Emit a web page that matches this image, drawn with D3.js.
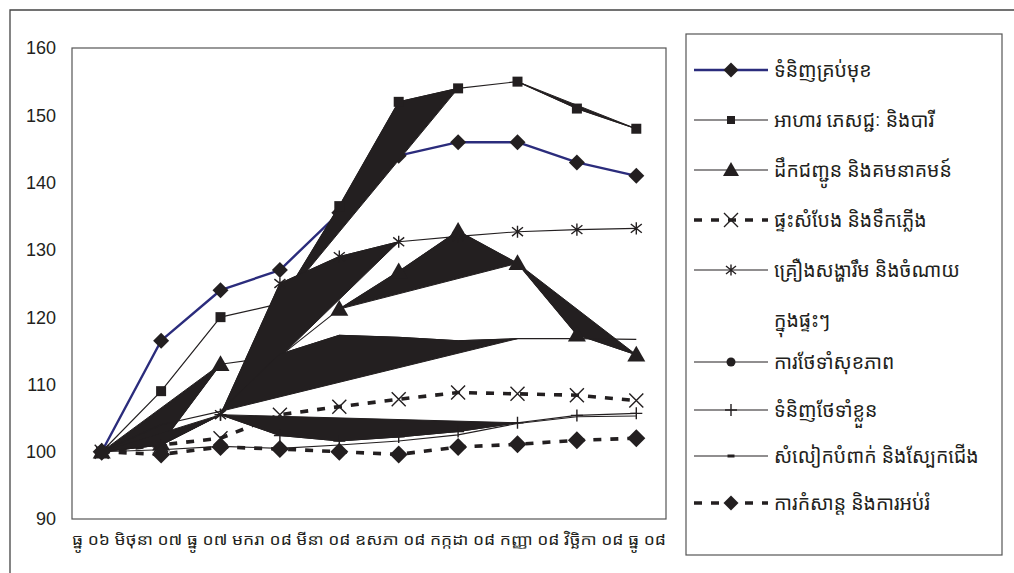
<!DOCTYPE html>
<html lang="km">
<head>
<meta charset="UTF-8">
<title>CPI by group</title>
<script src="https://d3js.org/d3.v7.min.js"></script>
<style>
  body { margin: 0; background: #fff; }
  text { fill: #231f20; }
  .num { font-family: "Liberation Sans", Arial, sans-serif; font-size: 18px; }
  .km { font-family: "Noto Sans Khmer", "Khmer OS", "Noto Sans", "DejaVu Sans", sans-serif; }
</style>
</head>
<body>
<svg width="1014" height="573"></svg>
<script>
// categories (x axis)
const months = ["ធ្នូ ០៦", "មិថុនា ០៧", "ធ្នូ ០៧", "មករា ០៨", "មីនា ០៨",
                "ឧសភា ០៨", "កក្កដា ០៨", "កញ្ញា ០៨", "វិច្ឆិកា ០៨", "ធ្នូ ០៨"];
const yTicks = [90, 100, 110, 120, 130, 140, 150, 160];

// series values
const allItems    = [100, 116.5, 124, 127, 135.5, 144, 146, 146, 143, 141];
const food        = [100, 109, 120, 122, 136.5, 152, 154, 155, 151, 148];
const transport   = [100, 101.2, 113, 114.2, 121.2, 126.8, 132.8, 128, 117.4, 114.4];
const housing     = [100, 101, 102, 105.5, 106.7, 107.8, 108.8, 108.6, 108.4, 107.6];
const furnishings = [100, 101, 105.5, 125, 129, 131.2, 132, 132.7, 133, 133.2];
const health      = [100, 104, 106, 114.5, 117.3, 117, 116.5, 116.8, 116.8, 116.7];
const personal    = [100, 101, 105.5, 102.4, 101.6, 102.2, 103, 104.3, 105.4, 105.7];
const clothing    = [100, 100.3, 100.8, 100.5, 101, 101.6, 102.5, 104.2, 105.2, 105.3];
const education   = [100, 99.6, 100.7, 100.4, 100, 99.6, 100.7, 101.1, 101.7, 102];

// legend labels
const labels = [
  ["ទំនិញគ្រប់មុខ"],
  ["អាហារ ភេសជ្ជៈ  និងបារី"],
  ["ដឹកជញ្ជូន និងគមនាគមន៍"],
  ["ផ្ទះសំបែង និងទឹកភ្លើង"],
  ["គ្រឿងសង្ហារឹម និងចំណាយ", "ក្នុងផ្ទះៗ"],
  ["ការថែទាំសុខភាព"],
  ["ទំនិញថែទាំខ្លួន"],
  ["សំលៀកបំពាក់ និងស្បែកជើង"],
  ["ការកំសាន្ត និងការអប់រំ"]
];

// index ranges of the series that came out filled black in the original
const foodFill = [[3, 6], [7, 9]];
const transportFill = [[0, 2], [4, 7], [7, 9]];
const furnishingsFill = [[0, 2], [2, 5]];
const healthFill = [[2, 7]];
const personalFill = [[2, 7]];

const ink = "#231f20";
const series = [
  {values: allItems,    color: "#2b2c7c", w: 2.4, marker: "diamond",  ms: 8,   fills: []},
  {values: food,        color: ink, w: 1.2, marker: "square",   ms: 5,   fills: foodFill},
  {values: transport,   color: ink, w: 1.1, marker: "triangle", ms: 9,   fills: transportFill},
  {values: housing,     color: ink, w: 3.6, dash: "8,9", marker: "x", ms: 7, fills: []},
  {values: furnishings, color: ink, w: 1.1, marker: "star",     ms: 5.5, fills: furnishingsFill},
  {values: health,      color: ink, w: 1.1, marker: "circle",   ms: 4.5, fills: healthFill, hide: true},
  {values: personal,    color: ink, w: 1.1, marker: "plus",     ms: 6,   fills: personalFill},
  {values: clothing,    color: ink, w: 1.1, marker: "dash",     ms: 3.5, fills: [], hide: true},
  {values: education,   color: ink, w: 3.6, dash: "8,9", marker: "diamond", ms: 9, fills: []}
];
const legendSize = [7.5, 4, 8, 7, 5, 4.5, 6, 3.5, 7.5];

const svg = d3.select("svg");
svg.append("rect").attr("width", 1014).attr("height", 573).attr("fill", "#fff");

// outer frame (only top and left show)
svg.append("path").attr("d", "M10,573 V10 H1014")
  .attr("fill", "none").attr("stroke", "#444").attr("stroke-width", 1.3);

const plot = {left: 72, top: 48, right: 666, bottom: 519};
const x = d3.scalePoint().domain(months).range([plot.left, plot.right]).padding(0.5);
const y = d3.scaleLinear().domain([90, 160]).range([plot.bottom, plot.top]);

svg.append("rect")
  .attr("x", plot.left).attr("y", plot.top)
  .attr("width", plot.right - plot.left).attr("height", plot.bottom - plot.top)
  .attr("fill", "none").attr("stroke", "#555").attr("stroke-width", 1.2);

// y labels
svg.selectAll(".ylab").data(yTicks).join("text")
  .attr("class", "num").attr("x", 56).attr("y", d => y(d)).attr("dy", "0.36em")
  .attr("text-anchor", "end").text(d => d);

// x labels: the original packs them into one justified line under the plot
svg.append("text").attr("class", "km").attr("font-size", 15)
  .attr("x", plot.left).attr("y", 545)
  .attr("textLength", plot.right - plot.left).attr("lengthAdjust", "spacingAndGlyphs")
  .text(months.join(" "));

function markerPath(type, s) {
  switch (type) {
    case "diamond": return `M0,${-s}L${s},0L0,${s}L${-s},0Z`;
    case "square": return `M${-s},${-s}H${s}V${s}H${-s}Z`;
    case "triangle": return `M0,${-s}L${s},${s * 0.75}L${-s},${s * 0.75}Z`;
    case "x": return `M${-s},${-s}L${s},${s}M${-s},${s}L${s},${-s}`;
    case "star": return `M${-s},${-s * 0.8}L${s},${s * 0.8}M${-s},${s * 0.8}L${s},${-s * 0.8}M0,${-s * 1.1}V${s * 1.1}`;
    case "plus": return `M${-s},0H${s}M0,${-s}V${s}`;
    case "circle": return d3.symbol(d3.symbolCircle, Math.PI * s * s)();
    case "dash": return `M${-s},-1.5H${s}V1.5H${-s}Z`;
  }
}
const filledMarker = t => ["diamond", "square", "triangle", "circle", "dash"].includes(t);

function drawMarker(g, type, s, color) {
  const p = g.append("path").attr("d", markerPath(type, s));
  if (filledMarker(type)) p.attr("fill", color).attr("stroke", "none");
  else p.attr("fill", "none").attr("stroke", color).attr("stroke-width", 1.4);
}

const line = d3.line().x(d => x(months[d[0]])).y(d => y(d[1]));

series.forEach(s => {
  const pts = s.values.map((v, i) => [i, v]);
  svg.append("path").attr("d", line(pts))
    .attr("fill", "none").attr("stroke", s.color).attr("stroke-width", s.w)
    .attr("stroke-dasharray", s.dash || null).attr("stroke-linejoin", "round");
  s.fills.forEach(([a, b]) => {
    svg.append("path").attr("d", line(pts.slice(a, b + 1)) + "Z")
      .attr("fill", ink).attr("stroke", ink).attr("stroke-width", 1);
  });
  if (!s.hide) {
    pts.forEach(([i, v]) => {
      const g = svg.append("g").attr("transform", `translate(${x(months[i])},${y(v)})`);
      drawMarker(g, s.marker, s.ms, ink);
    });
  }
});

// legend
svg.append("rect").attr("x", 686).attr("y", 34).attr("width", 316).attr("height", 521)
  .attr("fill", "#fff").attr("stroke", "#555").attr("stroke-width", 1.2);

const rowY = [70, 120, 170, 220, 270, 362, 410, 456, 503];
series.forEach((s, k) => {
  const yy = rowY[k];
  svg.append("line").attr("x1", 694).attr("x2", 768).attr("y1", yy).attr("y2", yy)
    .attr("stroke", s.color).attr("stroke-width", s.w)
    .attr("stroke-dasharray", s.dash || null);
  const g = svg.append("g").attr("transform", `translate(731,${yy})`);
  drawMarker(g, s.marker, legendSize[k], ink);
  labels[k].forEach((t, j) => {
    svg.append("text").attr("class", "km").attr("font-size", 19.5)
      .attr("x", 774).attr("y", yy + j * 50).attr("dy", "0.35em").text(t);
  });
});
</script>
</body>
</html>
